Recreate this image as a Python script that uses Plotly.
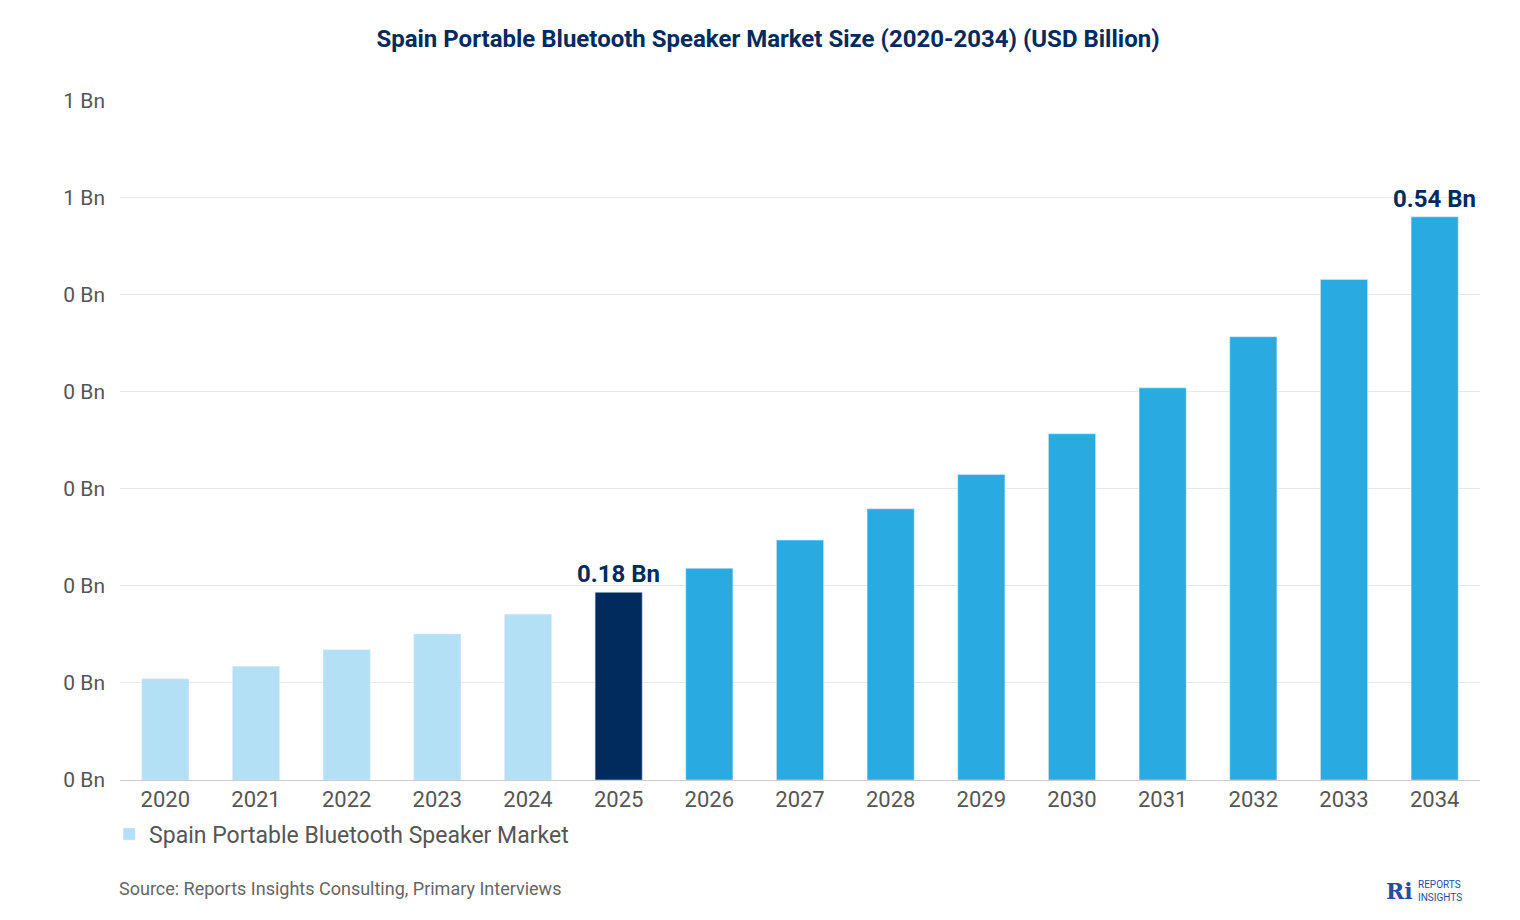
import plotly.graph_objects as go

years = [str(y) for y in range(2020, 2035)]
values = [0.097, 0.109, 0.125, 0.140, 0.159, 0.18, 0.203, 0.230, 0.260, 0.293, 0.332, 0.376, 0.425, 0.480, 0.54]
colors = ["#b3e0f5"] * 5 + ["#002b5c"] + ["#29abe2"] * 9
labelled = {"2025": "0.18 Bn", "2034": "0.54 Bn"}

fig = go.Figure(go.Bar(
    x=years, y=values, marker_color=colors, width=0.52,
    name="Spain Portable Bluetooth Speaker Market", showlegend=True,
))
for i, (x, v) in enumerate(zip(years, values)):
    if x in labelled:
        fig.add_annotation(x=i, y=v, text="<b>" + labelled[x] + "</b>", showarrow=False,
                           yanchor="bottom", yshift=2,
                           font=dict(family="Roboto", size=24, color="#002b5c"))
fig.update_layout(
    width=1520, height=920, plot_bgcolor="white", paper_bgcolor="white",
    margin=dict(l=112, r=48, t=92, b=148),
    title=dict(text="<b>Spain Portable Bluetooth Speaker Market Size (2020-2034) (USD Billion)</b>",
               x=0.5, y=0.967, xanchor="center", yanchor="middle",
               font=dict(family="Roboto", size=24, color="#002b5c")),
    font=dict(family="Roboto", color="#555"),
    legend=dict(orientation="h", x=-0.008, y=-0.048, xanchor="left", yanchor="top",
                bgcolor="rgba(0,0,0,0)",
                font=dict(size=23, color="#555"), itemwidth=30),
    bargap=0.48,
)
fig.update_xaxes(type="category", tickfont=dict(size=22, color="#555"), showline=True,
                 linecolor="#ccc", ticks="")
fig.update_yaxes(range=[0, 0.652], dtick=0.0931, tickformat=".0f", ticksuffix=" Bn",
                 tickfont=dict(size=21, color="#555"), gridcolor="#e8e8e8", zeroline=False,
                 ticklabelstandoff=14)
fig.add_annotation(text="Source: Reports Insights Consulting, Primary Interviews",
                   xref="paper", yref="paper", x=-0.002, y=-0.16, xanchor="left", yanchor="middle",
                   showarrow=False, font=dict(size=18, color="#666"))
fig.add_annotation(text="<b>Ri</b>", xref="paper", yref="paper", x=0.952, y=-0.163,
                   xanchor="right", yanchor="middle", showarrow=False,
                   font=dict(size=22, color="#1f4e9c", family="DejaVu Serif"))
fig.add_annotation(text="REPORTS<br>INSIGHTS", xref="paper", yref="paper", x=0.953, y=-0.163,
                   xanchor="left", yanchor="middle", showarrow=False, align="left",
                   font=dict(size=10, color="#1f4e9c"))
fig.write_html("out.html")
